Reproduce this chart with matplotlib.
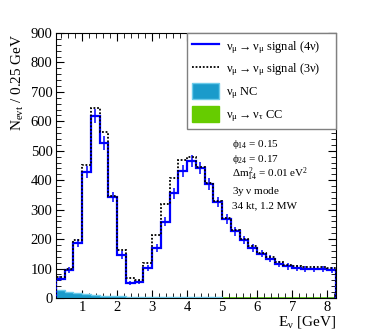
import numpy as np
import matplotlib
matplotlib.use("Agg")
import matplotlib.pyplot as plt
from matplotlib.lines import Line2D
from matplotlib.patches import Patch
from matplotlib.ticker import MultipleLocator

plt.rcParams['font.family'] = ['Liberation Serif', 'DejaVu Serif']
plt.rcParams['mathtext.fontset'] = 'custom'
plt.rcParams['mathtext.rm'] = 'Liberation Serif'
plt.rcParams['mathtext.it'] = 'Liberation Serif'

# bin edges, 0.25 GeV bins
edges = np.arange(0.25, 8.26, 0.25)

# nu_mu -> nu_mu signal, 4 flavour
sig4 = [66, 94, 186, 428, 618, 527, 343, 146, 52, 55, 101, 169, 259, 355, 432, 465,
        442, 387, 326, 269, 227, 198, 171, 150, 134, 116, 107, 101, 99, 99, 98, 94]
# nu_mu -> nu_mu signal, 3 flavour
sig3 = [70, 98, 198, 452, 645, 563, 347, 163, 69, 62, 120, 213, 320, 408, 467, 480,
        444, 390, 329, 273, 231, 202, 175, 154, 138, 121, 112, 107, 105, 104, 104, 102]
# NC background
nc = [28, 22, 17, 13, 10, 8, 7, 6, 5, 4.5, 4, 3.5, 3, 3, 2.5, 2.5,
      2, 2, 2, 1.5, 1.5, 1.5, 1, 1, 1, 1, 1, 0.8, 0.8, 0.7, 0.6, 0.5]
# nu_tau CC background
cc = [0.3, 0.5, 0.8, 1.2, 1.5, 1.6, 1.8, 1.8, 1.8, 1.8, 1.8, 1.8, 1.8, 1.8, 1.8, 1.8,
      1.8, 1.8, 1.8, 1.8, 1.8, 1.8, 1.8, 1.8, 1.8, 1.8, 1.8, 1.8, 1.8, 1.8, 1.8, 1.8]

info = [r'$\phi_{14}$ = 0.15', r'$\phi_{24}$ = 0.17',
        r'$\Delta m^2_{14}$ = 0.01 eV$^2$', r'3y $\nu$ mode', '34 kt, 1.2 MW']

fig = plt.figure(figsize=(3.74, 3.32), dpi=100)
ax = fig.add_axes([0.1497, 0.1024, 0.7487, 0.7982])

ax.stairs(cc, edges, fill=True, color='#66cc00', zorder=1)
ax.stairs(nc, edges, fill=True, facecolor='#1a9bcb', edgecolor='#6ccbea', lw=1, zorder=2)
ax.stairs(sig4, edges, color='#0000ff', lw=1.6, zorder=3)
centers = 0.5 * (edges[:-1] + edges[1:])
ax.errorbar(centers, sig4, yerr=np.sqrt(sig4), fmt='none', ecolor='#0000ff',
            elinewidth=1.1, zorder=3)
ax.stairs(sig3, edges, color='black', lw=1.3, linestyle=(0, (1, 1)), zorder=4)

ax.set_xlim(0.25, 8.25)
ax.set_ylim(0, 900)
ax.xaxis.set_major_locator(MultipleLocator(1))
ax.xaxis.set_minor_locator(MultipleLocator(0.2))
ax.yaxis.set_major_locator(MultipleLocator(100))
ax.yaxis.set_minor_locator(MultipleLocator(20))
ax.tick_params(which='both', direction='in', top=True, right=True, labelsize=10.5, pad=2.5)
ax.tick_params(which='major', length=6)
ax.tick_params(which='minor', length=3.5)

ax.set_ylabel(r'N$_{\rm evt}$ / 0.25 GeV', loc='top', fontsize=11, labelpad=3)
ax.set_xlabel(r'E$_\nu$ [GeV]', loc='right', fontsize=11, labelpad=0)

handles = [Line2D([], [], color='#0000ff', lw=1.6),
           Line2D([], [], color='black', lw=1.3, linestyle=(0, (1, 1))),
           Patch(facecolor='#1a9bcb', edgecolor='#6ccbea'),
           Patch(facecolor='#66cc00', edgecolor='#66cc00')]
labels = [r'$\nu_\mu \rightarrow \nu_\mu$ signal (4$\nu$)',
          r'$\nu_\mu \rightarrow \nu_\mu$ signal (3$\nu$)',
          r'$\nu_\mu$ NC',
          r'$\nu_\mu \rightarrow \nu_\tau$ CC']
leg = ax.legend(handles, labels, loc='upper left',
                bbox_to_anchor=(131 / 280, 0, 149 / 280, 1), mode='expand',
                borderaxespad=0, fontsize=8.9, fancybox=False, framealpha=1,
                edgecolor='#808080', handlelength=2.2, handleheight=1.6,
                labelspacing=0.4, borderpad=0.4, handletextpad=0.55)
leg.get_frame().set_linewidth(1)

ys = [144, 159, 174, 191, 206]
for t, y in zip(info, ys):
    ax.text(232 / 374, 1 - y / 332, t, transform=fig.transFigure,
            fontsize=8.0, va='center', ha='left')

fig.savefig('out.png', dpi=100)
